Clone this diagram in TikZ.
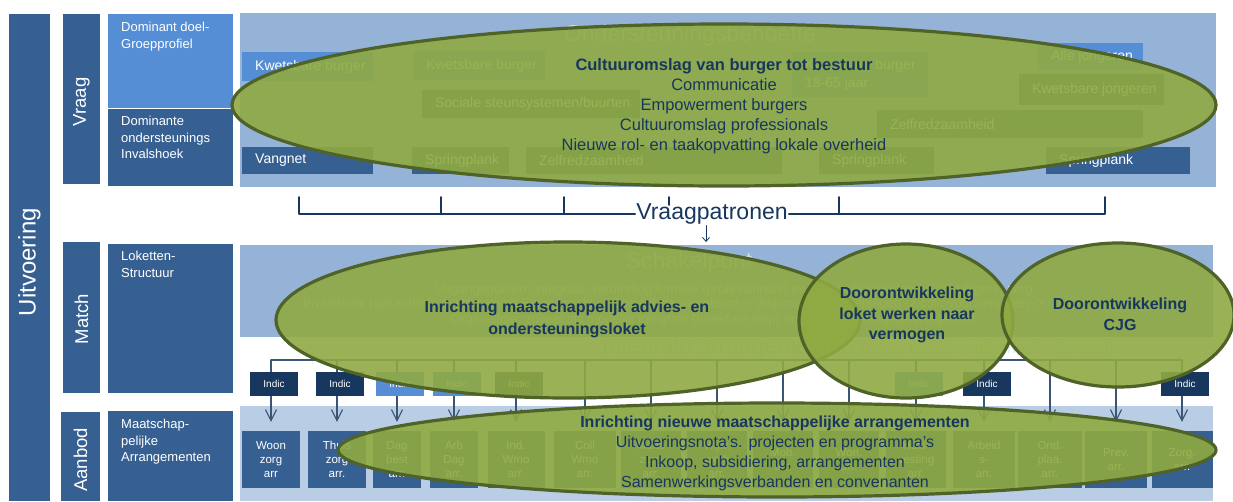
\documentclass[tikz,border=0pt]{standalone}
\usepackage{fontspec}
\setmainfont{Liberation Sans}
\usepackage{xcolor}
\usepackage{tikz}
\usetikzlibrary{positioning,calc,arrows.meta}

\definecolor{donker}{HTML}{376092}
\definecolor{licht}{HTML}{558ED5}
\definecolor{vlak}{HTML}{95B3D7}
\definecolor{vlakaanbod}{HTML}{B9CDE5}
\definecolor{navy}{HTML}{17375E}
\definecolor{olijf}{RGB}{143,170,66}
\definecolor{olijfrand}{HTML}{4F6228}

\begin{document}
\begin{tikzpicture}[x=1pt,y=-1pt, line cap=round, line join=round]
	\useasboundingbox (0,0) rectangle (1233,501);
	
	% ===== stijlen =====
	\tikzset{
		kop/.style={text=white, rotate=90, inner sep=0, font=\fontsize{18.5}{20}\selectfont},
		zijtekst/.style={anchor=north west, align=left, text=white, inner sep=0, font=\fontsize{13}{16.5}\selectfont},
		vaktekst/.style={anchor=west, align=left, text=white, inner sep=0, font=\fontsize{14}{18}\selectfont},
		titel/.style={text=white!55!vlak, inner sep=0, font=\fontsize{23}{25}\selectfont},
		vaag/.style={text=white!70!vlak, inner sep=0, font=\fontsize{13}{15}\selectfont},
		arrvak/.style={fill=donker, text=white, align=center, inner sep=0, minimum height=57pt, font=\fontsize{11.5}{14}\selectfont},
		indic/.style={text=white, inner sep=0, minimum width=48pt, minimum height=24pt, font=\fontsize{10}{12}\selectfont},
		pijl/.style={draw=navy!85!white, line width=1.1pt, -{Straight Barb[length=11pt,width=11pt]}},
		bol/.style={draw=olijfrand, line width=3.2pt, fill=olijf, fill opacity=0.9},
		boltekst/.style={text=navy, align=center, inner sep=0, font=\fontsize{16}{20.5}\selectfont}
	}
	
	% ===== linkerkolom =====
	\fill[donker] (9,14) rectangle (50,501);
	\node[kop, font=\fontsize{24}{26}\selectfont] (uitv) at (29.5,262) {Uitvoering};
	\fill[donker] (63,14) rectangle (100,184);
	\node[kop] (vraag) at (81.5,102) {Vraag};
	\fill[donker] (63,242) rectangle (100,393);
	\node[kop] (match) at (81.5,319) {Match};
	\fill[donker] (61,412) rectangle (100,501);
	\node[kop] (aanbod) at (80.5,460) {Aanbod};
	
	\fill[licht] (108,14) rectangle (233,108);
	\fill[donker] (108,109) rectangle (233,186);
	\fill[donker] (108,244) rectangle (233,393);
	\fill[donker] (108,411) rectangle (233,501);
	\node[zijtekst] (doel) at (121,22) {Dominant doel-\\Groepprofiel};
	\node[zijtekst] (invals) at (121,116) {Dominante\\ondersteunings\\Invalshoek};
	\node[zijtekst] (loket) at (121,251) {Loketten-\\Structuur};
	\node[zijtekst] (maatsch) at (121,419) {Maatschap-\\pelijke\\Arrangementen};
	
	% ===== vraag: ondersteuningsbehoefte =====
	\fill[vlak] (240,13) rectangle (1216,187);
	\node[titel] (behoefte) at (690,36) {Ondersteuningsbehoefte};
	\foreach \xa/\ya/\xb/\yb/\kl/\tekst [count=\i] in {
		242/52/373/81/licht/{Kwetsbare burger},
		413/51/545/80/licht/{Kwetsbare burger},
		792/52/928/97/licht/{Kwetsbare burger\\18-65 jaar},
		422/90/640/118/donker/{Sociale steunsystemen\slash buurten},
		1038/43/1143/70/licht/{Alle jongeren},
		1019/74/1164/105/donker/{Kwetsbare jongeren},
		877/110/1143/138/donker/{Zelfredzaamheid},
		242/147/373/174/donker/{Vangnet},
		412/147/509/174/donker/{Springplank},
		526/147/782/174/donker/{Zelfredzaamheid},
		819/147/934/174/donker/{Springplank},
		1046/147/1190/174/donker/{Springplank}}{
		\fill[\kl] (\xa,\ya) rectangle (\xb,\yb);
		\node[vaktekst] (vb\i) at (\xa+13,{(\ya+\yb)/2}) {\tekst};
	}
	
	% ===== vraagpatronen =====
	\node[text=navy, inner sep=1pt, font=\fontsize{23}{25}\selectfont] (patronen) at (712,214) {Vraagpatronen};
	\draw[navy, line width=1.6pt] (299,197) -- (299,214) -- (patronen.west);
	\draw[navy, line width=1.6pt] (patronen.east) -- (1105,214) -- (1105,197);
	\foreach \x in {441,564,839}
		\draw[navy, line width=1.6pt] (\x,197) -- (\x,214);
	\draw[navy, line width=1.6pt] (669,197) -- (669,205);
	\coordinate (schakeltop) at (706,242);
	\draw[navy, line width=0.8pt, -{Straight Barb[length=4pt,width=7pt]}] (patronen.south -| schakeltop) -- (schakeltop);
	
	% ===== match: schakelpunt =====
	\fill[vlak] (240,245) rectangle (1213,337);
	\node[titel] (schakel) at (689,263) {Schakelpunt};
	\node[vaag] (uitgang) at (734,290) {Uitgangspunten: integraal, verbinding formele (professionals) en informele (buurten en vrijwilligers) zorg};
	\node[vaag] (kanteling) at (674,304) {Invalshoek (gekanteld): systematisch Eigen kracht -> Sociaal steunsysteem -> Algemene voorzieningen -> coll. voorzieningen ->};
	\node[vaag] (organisatie) at (713,320) {Organisatie: zoveel als mogelijk integraal (breed en diep) en zoveel als mogelijk wijkgericht};
	\node[titel, text=white!70!vlak] (integraal) at (858,348) {Integrale arrangementen {\fontsize{16}{18}\selectfont (eigen kracht > informeel > formeel)}};
	
	% ===== aanbod: arrangementen =====
	\fill[vlakaanbod] (240,406) rectangle (1213,501);
	\foreach \x/\w/\tekst [count=\i] in {
		271/58/{Woon\\zorg\\arr},
		337/58/{Thuis\\zorg\\arr.},
		397/48/{Dag\\best\\arr.},
		454/48/{Arb\\Dag\\arr.},
		516/57/{Ind.\\Wmo\\arr.},
		585/62/{Coll\\Wmo\\arr.},
		651/60/{Mant.\\zorg\\arr.},
		717/60/{Vrijw.\\werk\\arr.},
		783/60/{Mob.\\arr.},
		849/60/{Won.\\arr.},
		916/60/{Huis-\\vesting\\arr.},
		984/62/{Arbeid\\s-\\arr.},
		1050/64/{Ond.\\plaa.\\arr.},
		1116/62/{Prev.\\arr.},
		1182/61/{Zorg.\\arr.}}{
		\node[arrvak, minimum width=\w pt] (arr\i) at (\x,459.5) {\tekst};
		\coordinate (top\i) at (\x,360);
		\draw[pijl, shorten >=9pt] (top\i) -- (arr\i.north);
	}
	\draw[navy!85!white, line width=1.1pt] (top1) -- (top15);
	
	% indicatieblokjes
	\foreach \i/\kl in {1/navy,2/navy,3/licht,4/licht,5/navy,11/licht,12/navy,15/navy}
		\node[indic, fill=\kl] (ind\i) at ($(top\i)+(3,24)$) {Indic};
	
	% ===== ellipsen =====
	\draw[bol] (724,105) ellipse [x radius=492, y radius=81];
	\node[boltekst, font=\fontsize{16.5}{20}\selectfont] (cultuur) at (724,106) {\textbf{Cultuuromslag van burger tot bestuur}\\Communicatie\\Empowerment burgers\\Cultuuromslag professionals\\Nieuwe rol- en taakopvatting lokale overheid};
	
	\draw[bol] (568,320) ellipse [x radius=292, y radius=78];
	\draw[bol] (906,321) ellipse [x radius=107, y radius=77];
	\draw[bol] (1118,315) ellipse [x radius=116, y radius=72];
	\node[boltekst, font=\bfseries\fontsize{16}{22}\selectfont] (adviesloket) at (567,319) {Inrichting maatschappelijk advies- en\\ondersteuningsloket};
	\node[boltekst, font=\bfseries\fontsize{16}{20.5}\selectfont] (vermogen) at (907,315) {Doorontwikkeling\\loket werken naar\\vermogen};
	\node[boltekst, font=\bfseries\fontsize{16}{21}\selectfont] (cjg) at (1120,314) {Doorontwikkeling\\CJG};
	
	\draw[bol] (777,450) ellipse [x radius=439, y radius=47];
	\node[boltekst, font=\fontsize{16}{20}\selectfont] (nieuwarr) at (775,453) {\textbf{Inrichting nieuwe maatschappelijke arrangementen}\\Uitvoeringsnota's. projecten en programma's\\Inkoop, subsidiering,  arrangementen\\Samenwerkingsverbanden en convenanten};
	
\end{tikzpicture}
\end{document}
